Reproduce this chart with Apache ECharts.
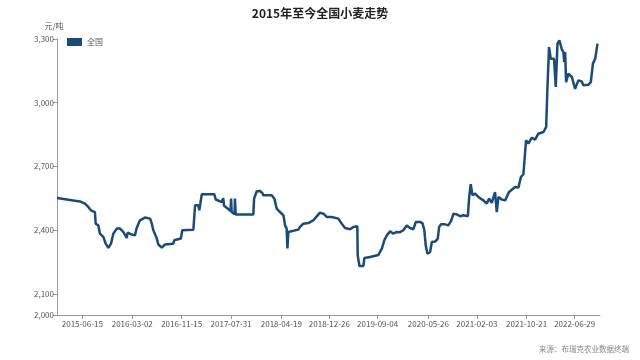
<!DOCTYPE html>
<html>
<head>
<meta charset="utf-8">
<script src="https://cdn.jsdelivr.net/npm/echarts@6/dist/echarts.min.js"></script>
<style>html,body{margin:0;padding:0;background:#fff;}#c{width:640px;height:360px;}</style>
</head>
<body>
<div id="c"></div>
<script>
var titleText = '2015年至今全国小麦走势';
var unitText = '元/吨';
var sourceText = '来源：布瑞克农业数据终端';
var seriesName = '全国';
var xTickLabels = ['2015-06-15','2016-03-02','2016-11-15','2017-07-31','2018-04-19','2018-12-26','2019-09-04','2020-05-26','2021-02-03','2021-10-21','2022-06-29'];
var yTickValues = [2000, 2100, 2400, 2700, 3000, 3300];
var dates = [
'2015-02-03','2015-04-21','2015-06-03','2015-06-29','2015-07-16','2015-07-30','2015-08-20','2015-08-24','2015-09-07','2015-09-15',
'2015-10-03','2015-10-15','2015-10-29','2015-11-12','2015-11-24','2015-12-12','2015-12-29','2016-01-15','2016-02-02','2016-02-07',
'2016-02-28','2016-03-16','2016-03-25','2016-04-11','2016-05-07','2016-06-03','2016-06-11','2016-06-20','2016-07-08','2016-07-16',
'2016-08-03','2016-08-20','2016-10-02','2016-10-07','2016-11-11','2016-11-18','2017-01-15','2017-01-24','2017-02-10','2017-02-15',
'2017-02-28','2017-05-04','2017-05-12','2017-06-12','2017-06-15','2017-06-20','2017-06-24','2017-07-15','2017-07-28','2017-07-31',
'2017-08-03','2017-08-18','2017-08-20','2017-08-24','2017-11-24','2017-11-28','2017-12-07','2017-12-12','2017-12-29','2018-01-10',
'2018-01-15','2018-02-28','2018-03-14','2018-03-26','2018-04-12','2018-04-30','2018-05-09','2018-05-17','2018-05-21','2018-05-26',
'2018-06-04','2018-07-17','2018-07-26','2018-08-12','2018-09-07','2018-10-03','2018-11-07','2018-11-25','2018-12-12','2019-01-07',
'2019-02-11','2019-03-01','2019-03-18','2019-04-13','2019-04-30','2019-05-21','2019-05-23','2019-06-01','2019-06-22','2019-06-27',
'2019-07-27','2019-08-04','2019-09-08','2019-09-26','2019-10-09','2019-10-22','2019-11-08','2019-11-25','2019-12-13','2019-12-30',
'2020-01-16','2020-02-03','2020-02-20','2020-03-09','2020-03-21','2020-04-13','2020-04-25','2020-05-05','2020-05-12','2020-05-21',
'2020-06-04','2020-06-13','2020-06-30','2020-07-14','2020-07-21','2020-07-31','2020-08-21','2020-09-07','2020-09-22','2020-10-04',
'2020-10-21','2020-11-08','2020-11-25','2020-12-04','2020-12-18','2020-12-25','2021-01-02','2021-01-11','2021-01-25','2021-02-11',
'2021-02-20','2021-03-09','2021-03-27','2021-04-08','2021-04-22','2021-05-09','2021-05-18','2021-05-27','2021-06-13','2021-07-01',
'2021-07-08','2021-07-21','2021-07-27','2021-08-22','2021-09-08','2021-09-21','2021-10-04','2021-10-18','2021-10-30','2021-11-17',
'2021-12-04','2021-12-21','2022-01-17','2022-01-31','2022-02-06','2022-02-15','2022-02-24','2022-03-13','2022-03-22','2022-03-31',
'2022-04-10','2022-04-23','2022-05-01','2022-05-05','2022-05-10','2022-05-15','2022-05-27','2022-06-14','2022-07-01','2022-07-18',
'2022-08-05','2022-08-13','2022-09-09','2022-09-21','2022-10-02','2022-10-14','2022-10-26'
];
var prices = [
2551,2540,2535,2525,2509,2493,2485,2430,2422,2383,
2368,2336,2316,2336,2383,2407,2407,2391,2363,2388,
2379,2375,2410,2446,2459,2454,2433,2399,2360,2332,
2317,2332,2336,2352,2360,2399,2402,2517,2517,2493,
2569,2569,2544,2532,2525,2550,2515,2500,2490,2548,
2485,2475,2548,2473,2473,2548,2548,2583,2584,2575,
2564,2564,2548,2501,2485,2470,2422,2407,2313,2391,
2399,2402,2415,2430,2433,2446,2482,2477,2462,2462,
2454,2430,2410,2404,2415,2418,2281,2231,2231,2269,
2273,2281,2283,2313,2352,2375,2394,2383,2391,2390,
2399,2422,2410,2404,2438,2438,2433,2399,2328,2289,
2297,2344,2346,2360,2415,2427,2427,2422,2443,2477,
2474,2465,2470,2462,2465,2556,2616,2564,2572,2556,
2560,2540,2525,2548,2528,2579,2485,2556,2544,2540,
2544,2579,2587,2603,2600,2650,2663,2823,2807,2835,
2826,2854,2862,2886,3055,3262,3207,3207,3074,3278,
3294,3250,3239,3192,3239,3097,3137,3121,3065,3105,
3100,3082,3085,3097,3184,3207,3278
];
var xMin = '2015-02-03';
var xMax = '2022-11-08';

function ts(s){var p=s.split('-');return new Date(+p[0],+p[1]-1,+p[2]).getTime();}
function pad(n){return (n<10?'0':'')+n;}
function fmtDate(v){var d=new Date(v);return d.getFullYear()+'-'+pad(d.getMonth()+1)+'-'+pad(d.getDate());}
function fmtNum(v){return String(v).replace(/\B(?=(\d{3})+(?!\d))/g, ',');}

var lineColor = '#1b4b78';
var data = dates.map(function(d,i){return [ts(d), prices[i]];});
var xTicks = xTickLabels.map(ts);

var chart = echarts.init(document.getElementById('c'));
chart.setOption({
  animation: false,
  backgroundColor: '#fff',
  textStyle: {fontFamily: '"Noto Sans CJK SC","Noto Sans",sans-serif'},
  title: [
    {text: titleText, left: 'center', top: 2, textStyle: {fontSize: 12, fontWeight: 'bold', color: '#222'}},
    {text: sourceText, right: 6, bottom: 2, textStyle: {fontSize: 7.5, fontWeight: 'normal', color: '#888'}}
  ],
  legend: {
    left: 62, top: 33, itemWidth: 15, itemHeight: 8, itemGap: 4,
    icon: 'rect',
    textStyle: {fontSize: 8, color: '#555'},
    data: [seriesName]
  },
  grid: {left: 57, right: 40, top: 39, bottom: 45},
  xAxis: {
    type: 'value',
    min: ts(xMin), max: ts(xMax),
    splitLine: {show: false},
    axisLine: {show: true, lineStyle: {color: '#999', width: 1}},
    axisTick: {show: true, customValues: xTicks, length: 4, lineStyle: {color: '#999'}},
    axisLabel: {customValues: xTicks, formatter: function(v){return fmtDate(v);}, fontSize: 8, color: '#555', margin: 5, hideOverlap: false}
  },
  yAxis: {
    type: 'value',
    min: 2000, max: 3300,
    name: unitText, nameLocation: 'end', nameGap: 9,
    nameTextStyle: {fontSize: 8, color: '#555', align: 'center', padding: [0, 0, 0, -6]},
    splitLine: {show: false},
    axisLine: {show: true, lineStyle: {color: '#999', width: 1}},
    axisTick: {show: true, customValues: yTickValues, length: 4, lineStyle: {color: '#999'}},
    axisLabel: {customValues: yTickValues, formatter: function(v){return fmtNum(v);}, fontSize: 8, color: '#555', margin: 3}
  },
  series: [{
    name: seriesName,
    type: 'line',
    data: data,
    showSymbol: false,
    symbol: 'none',
    itemStyle: {color: lineColor},
    lineStyle: {color: lineColor, width: 2.5}
  }]
});
</script>
</body>
</html>
